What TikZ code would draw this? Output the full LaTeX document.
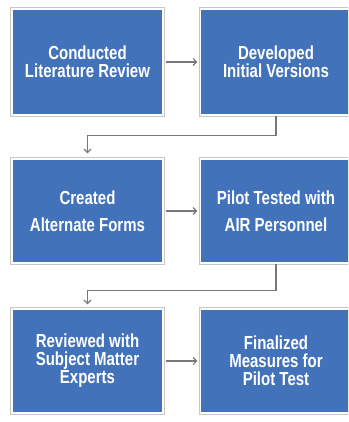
\documentclass[tikz,border=0pt]{standalone}
\usepackage{fontspec}
\usepackage{graphicx}
\setmainfont{Liberation Sans}
\usetikzlibrary{arrows.meta}
\definecolor{stepblue}{RGB}{66,114,186}
\definecolor{linkgray}{RGB}{120,120,120}
% tall, slightly condensed-looking label line
\newcommand\tallline[1]{\scalebox{1}[1.26]{#1}}
\newcommand\linesat[1]{\fontsize{15}{#1}\selectfont\bfseries\lineskiplimit=-100pt\relax}
\tikzset{
  stepbox/.style={fill=stepblue, draw=white, line width=1.4pt,
    preaction={draw=black!22, line width=3.6pt},
    text=white, align=center, inner sep=0pt, minimum width=151pt},
  link/.style={draw=linkgray, line width=1.2pt,
    -{Straight Barb[length=3.5pt,width=7pt,line width=1.1pt]}}
}
\begin{document}
\begin{tikzpicture}[x=1pt,y=-1pt]
  \useasboundingbox (0,0) rectangle (348,422);
  \clip (0,0) rectangle (348,422);
  \fill[white] (0,0) rectangle (348,422);
  % first row
  \node[stepbox, font=\linesat{18pt}, minimum height=106pt] (lit) at (87.5,62) {\tallline{Conducted}\\\tallline{Literature Review}};
  \node[stepbox, font=\linesat{18pt}, minimum height=106pt] (dev) at (276,62) {\tallline{Developed}\\\tallline{Initial Versions}};
  % second row
  \node[stepbox, font=\linesat{27pt}, minimum height=104pt] (alt) at (87.5,211) {\tallline{Created}\\\tallline{Alternate Forms}};
  \node[stepbox, font=\linesat{27pt}, minimum height=104pt] (air) at (276,211) {\tallline{Pilot Tested with}\\\tallline{AIR Personnel}};
  % third row
  \node[stepbox, font=\linesat{18pt}, minimum height=104pt] (sme) at (87.5,361) {\tallline{Reviewed with}\\\tallline{Subject Matter}\\\tallline{Experts}};
  \node[stepbox, font=\linesat{18pt}, minimum height=104pt] (fin) at (276,361) {\tallline{Finalized}\\\tallline{Measures for}\\\tallline{Pilot Test}};
  % connectors
  \draw[link, shorten <=2pt, shorten >=2.5pt] (lit.east) -- (dev.west);
  \draw[link, shorten <=2pt, shorten >=2.5pt] (alt.east) -- (air.west);
  \draw[link, shorten <=2pt, shorten >=2.5pt] (sme.east) -- (fin.west);
  \draw[link, shorten >=5pt] (dev.south) -- ++(0,20) -| (alt.north);
  \draw[link, shorten >=4pt] (air.south) -- ++(0,27) -| (sme.north);
\end{tikzpicture}
\end{document}
